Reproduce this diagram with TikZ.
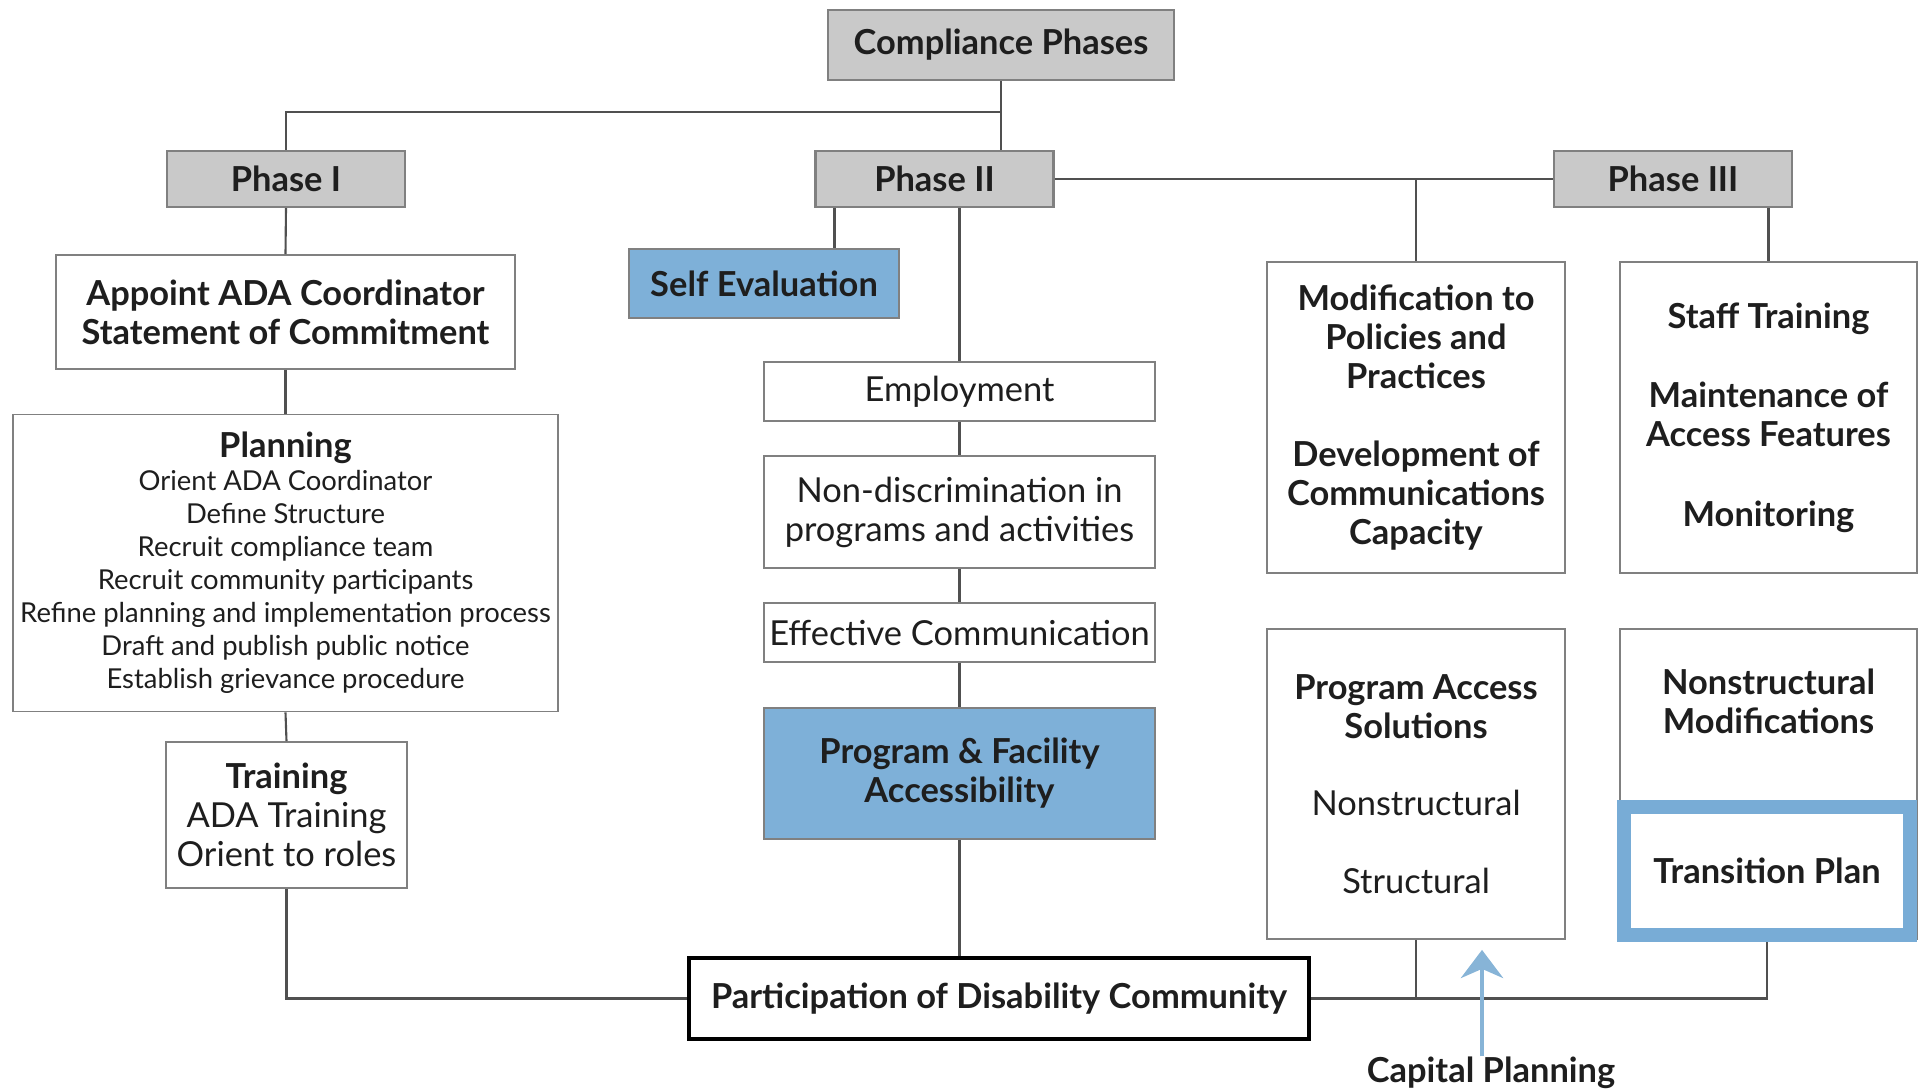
\documentclass[tikz,border=0pt]{standalone}
\usepackage{fontspec}
\setmainfont{Lato}
\usetikzlibrary{arrows.meta}
\definecolor{phasegray}{RGB}{201,201,201}
\definecolor{boxline}{RGB}{128,128,128}
\definecolor{evalblue}{RGB}{126,176,216}
\definecolor{frameblue}{RGB}{120,172,214}
\definecolor{arrowblue}{RGB}{135,180,215}
\definecolor{linkgray}{RGB}{80,80,80}
\definecolor{inkblack}{RGB}{30,30,30}

\begin{document}
\begin{tikzpicture}[x=0.1mm, y=-0.1mm,
    every node/.style={font=\fontsize{9.8}{11.1}\selectfont, text=inkblack, align=center, inner sep=0pt},
    phasebox/.style={draw=boxline, fill=phasegray, line width=0.6pt,
        font=\fontsize{9.8}{11.1}\selectfont\bfseries, minimum width=23.8mm, minimum height=5.6mm},
    whitebox/.style={draw=boxline, fill=white, line width=0.5pt},
    bluebox/.style={draw=boxline, fill=evalblue, line width=0.5pt, font=\fontsize{9.8}{11.1}\selectfont\bfseries},
    bigtext/.style={font=\fontsize{9.8}{11.1}\selectfont\bfseries},
    link/.style={draw=linkgray, line width=0.6pt}]
    \useasboundingbox (0,0) rectangle (1923,1089);

    % top and phases
    \node[phasebox, minimum width=34.6mm, minimum height=7mm] (comp) at (1001,45) {Compliance Phases};
    \node[phasebox] (ph1) at (286,179) {Phase I};
    \node[phasebox] (ph2) at (934.5,179) {Phase II};
    \node[phasebox] (ph3) at (1673,179) {Phase III};

    % phase I column
    \node[whitebox, bigtext, minimum width=45.9mm, minimum height=11.4mm] (appoint) at (285.5,312)
        {Appoint ADA Coordinator\\Statement of Commitment};
    \node[whitebox, font=\fontsize{7.8}{9.4}\selectfont, minimum width=54.5mm, minimum height=29.7mm] (planning) at (285.5,563)
        {{\fontsize{9.8}{11.1}\selectfont\bfseries Planning}\\
        Orient ADA Coordinator\\Define Structure\\Recruit compliance team\\Recruit community participants\\
        Refine planning and implementation process\\Draft and publish public notice\\Establish grievance procedure};
    \node[whitebox, minimum width=24.1mm, minimum height=14.6mm] (training) at (286.5,815)
        {\textbf{Training}\\ADA Training\\Orient to roles};

    % phase II column
    \node[bluebox, minimum width=27mm, minimum height=6.9mm] (selfeval) at (764,283.5) {Self Evaluation};
    \node[whitebox, minimum width=39.1mm, minimum height=5.9mm] (employ) at (959.5,391.5) {Employment};
    \node[whitebox, minimum width=39.1mm, minimum height=11.2mm] (nondisc) at (959.5,512)
        {Non-discrimination in\\programs and activities};
    \node[whitebox, minimum width=39.1mm, minimum height=5.9mm] (effcomm) at (959.5,632.5) {Effective Communication};
    \node[bluebox, minimum width=39.1mm, minimum height=13.1mm] (progfac) at (959.5,773.5)
        {Program \& Facility\\Accessibility};

    \node[draw=black, line width=1.3pt, fill=white, bigtext, minimum width=62mm, minimum height=8.1mm] (particip) at (999,998.5)
        {Participation of Disability Community};

    % phase III columns
    \node[whitebox, bigtext, minimum width=29.8mm, minimum height=31.1mm] (modif) at (1416,417.5)
        {Modification to\\Policies and\\Practices\\[11pt]Development of\\Communications\\Capacity};
    \node[whitebox, bigtext, minimum width=29.7mm, minimum height=31.1mm] (staff) at (1768.5,417.5)
        {Staff Training\\[11.5pt]Maintenance of\\Access Features\\[11.5pt]Monitoring};
    \node[whitebox, minimum width=29.8mm, minimum height=31mm] (progacc) at (1416,784)
        {\textbf{Program Access}\\\textbf{Solutions}\\[11pt]Nonstructural\\[11pt]Structural};
    \node[whitebox, minimum width=29.7mm, minimum height=31mm] (nonstr) at (1768.5,784) {};
    \node[bigtext] (nonstrtxt) at (1768.5,701) {Nonstructural\\Modifications};
    \node[draw=frameblue, line width=4pt, fill=white, bigtext, minimum width=28.6mm, minimum height=12.8mm] (trans) at (1767,871)
        {Transition Plan};

    \node[bigtext] (capital) at (1491,1073) {Capital Planning};

    % connectors
    \coordinate (split) at (1001,112);
    \coordinate (sedrop) at ([xshift=2mm]ph2.south west);
    \draw[link] (comp) -- (comp |- ph2.north);
    \draw[link] (split) -| (ph1);
    \draw[link] (ph2.east) -- (ph3.west);
    \draw[link] (modif.north) -- (modif.north |- ph3.west);
    \draw[link] (ph3.south -| staff.north) -- (staff.north);
    \draw[link] (sedrop) -- (sedrop |- selfeval.north);
    \draw[link] (ph2.south -| employ.north) -- (employ.north);
    \foreach \a/\b in {employ/nondisc, nondisc/effcomm, effcomm/progfac}{
        \draw[link] (\a.south) -- (\b.north);
    }
    \draw[link] (progfac.south) -- (progfac.south |- particip.north);
    \foreach \a/\b in {ph1/appoint, appoint/planning, planning/training}{
        \draw[link] (\a.south) -- (\b.north);
    }
    \draw[link] (training.south) |- (particip.west);
    \draw[link] (particip.east) -| (trans.south);
    \draw[link] (progacc.south) -- (progacc.south |- particip.east);
    \draw[arrowblue, line width=1.4pt, -{Stealth[length=8pt, width=12pt]}, shorten >=1mm]
        ([xshift=-0.9mm]capital.north) -- ([xshift=-0.9mm]capital.north |- progacc.south);
\end{tikzpicture}
\end{document}
